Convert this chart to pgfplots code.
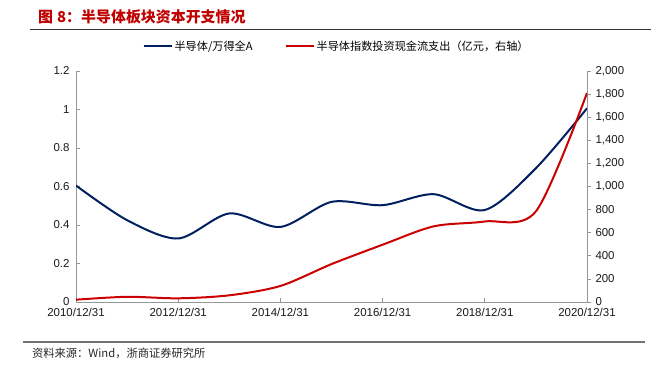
\documentclass[border=0pt]{standalone}
\usepackage{pgfplots}
\pgfplotsset{compat=1.18}
\usepackage{fontspec}
\setmainfont{Liberation Sans}
\newfontfamily\cjk{Noto Sans CJK SC}
\definecolor{titlered}{RGB}{192,0,0}
\definecolor{navy}{RGB}{0,32,96}
\definecolor{lred}{RGB}{204,0,0}
\definecolor{axgray}{RGB}{150,150,150}
\begin{document}
\begin{tikzpicture}
\path[use as bounding box] (0bp,0bp) rectangle (651bp,365bp);
\node[anchor=west, text=titlered, inner sep=0pt, font=\cjk\bfseries\fontsize{15}{16}\selectfont] at (38bp,348bp) {图\hspace{4bp}8：半导体板块资本开支情况};
\draw[line width=1bp, black!80] (30bp,335bp) -- (651bp,335bp);
\draw[line width=1.5bp, black!55] (23bp,23bp) -- (645bp,23bp);
\node[anchor=west, inner sep=0pt, font=\cjk\fontsize{11.3}{12}\selectfont, text=black!85] at (32bp,12bp) {资料来源：Wind，浙商证券研究所};
\begin{axis}[
  at={(76bp,63bp)}, anchor=south west, scale only axis,
  width=511bp, height=231bp,
  xmin=2010, xmax=2020, ymin=0, ymax=1.2,
  axis y line*=left, axis x line*=bottom,
  axis line style={axgray, line width=0.8bp},
  tick style={axgray, line width=0.8bp},
  major tick length=4bp,
  tick align=inside,
  xtick={2010,2012,2014,2016,2018,2020},
  xticklabels={2010/12/31,2012/12/31,2014/12/31,2016/12/31,2018/12/31,2020/12/31},
  ytick={0,0.2,0.4,0.6,0.8,1,1.2},
  yticklabels={0,0.2,0.4,0.6,0.8,1,1.2},
  tick label style={font=\fontsize{11.5}{13}\selectfont, text=black!90},
  xticklabel style={yshift=-3bp},
  yticklabel style={xshift=-3bp},
  legend style={at={(0.51,1.108)}, anchor=center, draw=none, fill=none,
    legend columns=2, font=\cjk\fontsize{11.2}{12}\selectfont,
    /tikz/every even column/.append style={column sep=30bp}},
  legend cell align=left,
  legend image code/.code={\draw[#1] (0bp,0bp) -- (28bp,0bp);},
]
\addplot[navy, line width=2bp, smooth] coordinates {
(2010,0.605) (2011,0.425) (2012,0.33) (2013,0.46) (2014,0.39) (2015,0.52)
(2016,0.503) (2017,0.56) (2018,0.478) (2019,0.695) (2020,1.006)};
\addlegendentry{半导体/万得全A}
\addlegendimage{lred, line width=2bp}
\addlegendentry{半导体指数投资现金流支出（亿元，右轴）}
\end{axis}
\begin{axis}[
  at={(76bp,63bp)}, anchor=south west, scale only axis,
  width=511bp, height=231bp,
  xmin=2010, xmax=2020, ymin=0, ymax=2000,
  axis y line*=right, axis x line=none,
  axis line style={axgray, line width=0.8bp},
  tick style={axgray, line width=0.8bp},
  major tick length=4bp,
  tick align=outside,
  ytick={0,200,400,600,800,1000,1200,1400,1600,1800,2000},
  yticklabels={0,200,400,600,800,{1,000},{1,200},{1,400},{1,600},{1,800},{2,000}},
  tick label style={font=\fontsize{11.5}{13}\selectfont, text=black!90},
  yticklabel style={xshift=1bp},
]
\addplot[lred, line width=2bp, smooth] coordinates {
(2010,20) (2011,45) (2012,32) (2013,58) (2014,139) (2015,328)
(2016,496) (2017,655) (2018,697) (2019,785) (2020,1810)};
\end{axis}
\end{tikzpicture}
\end{document}
